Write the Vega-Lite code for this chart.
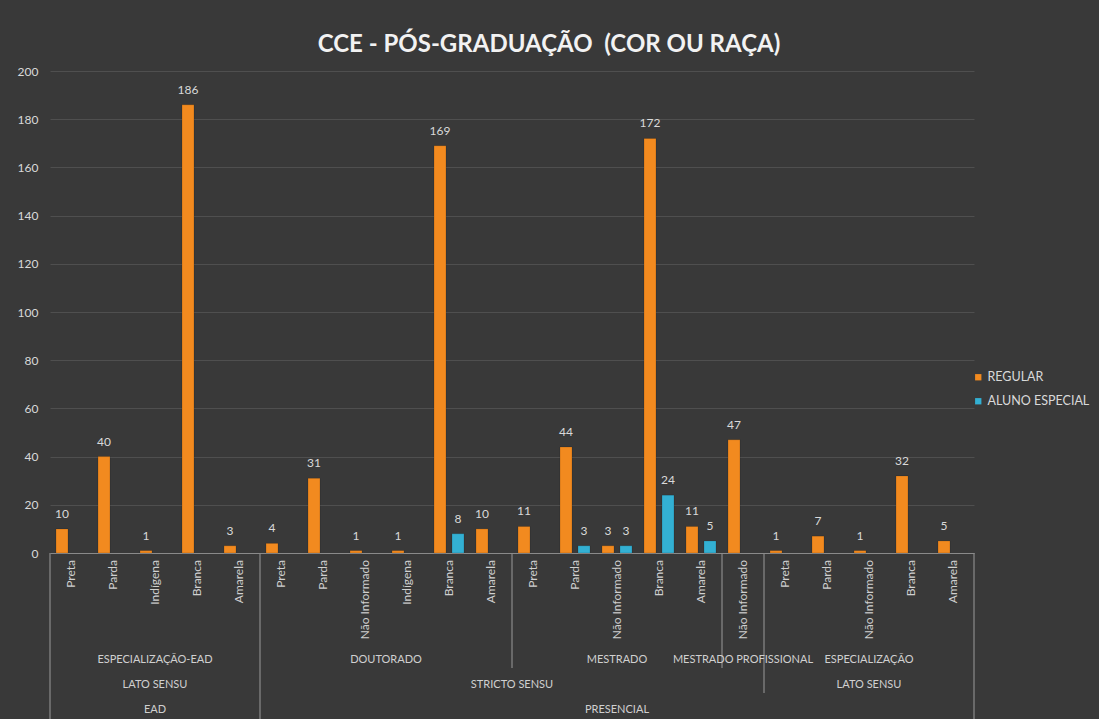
{
  "$schema": "https://vega.github.io/schema/vega-lite/v6.json",
  "background": "#393939",
  "padding": {"left": 17, "top": 33, "right": 10, "bottom": 0},
  "bounds": "flush",
  "spacing": 0,
  "title": {
    "text": "CCE - PÓS-GRADUAÇÃO \u00a0(COR OU RAÇA)",
    "anchor": "middle",
    "frame": "group",
    "dx": 37,
    "offset": 8,
    "color": "#f2f2f2",
    "font": "Lato",
    "fontSize": 24,
    "fontWeight": "bold"
  },
  "datasets": {
    "cats": [
      {"n": 1, "race": "Preta", "course": "ESPECIALIZAÇÃO-EAD", "lvl": "LATO SENSU", "mod": "EAD"},
      {"n": 2, "race": "Parda", "course": "ESPECIALIZAÇÃO-EAD", "lvl": "LATO SENSU", "mod": "EAD"},
      {"n": 3, "race": "Indígena", "course": "ESPECIALIZAÇÃO-EAD", "lvl": "LATO SENSU", "mod": "EAD"},
      {"n": 4, "race": "Branca", "course": "ESPECIALIZAÇÃO-EAD", "lvl": "LATO SENSU", "mod": "EAD"},
      {"n": 5, "race": "Amarela", "course": "ESPECIALIZAÇÃO-EAD", "lvl": "LATO SENSU", "mod": "EAD"},
      {"n": 6, "race": "Preta", "course": "DOUTORADO", "lvl": "STRICTO SENSU", "mod": "PRESENCIAL"},
      {"n": 7, "race": "Parda", "course": "DOUTORADO", "lvl": "STRICTO SENSU", "mod": "PRESENCIAL"},
      {"n": 8, "race": "Não Informado", "course": "DOUTORADO", "lvl": "STRICTO SENSU", "mod": "PRESENCIAL"},
      {"n": 9, "race": "Indígena", "course": "DOUTORADO", "lvl": "STRICTO SENSU", "mod": "PRESENCIAL"},
      {"n": 10, "race": "Branca", "course": "DOUTORADO", "lvl": "STRICTO SENSU", "mod": "PRESENCIAL"},
      {"n": 11, "race": "Amarela", "course": "DOUTORADO", "lvl": "STRICTO SENSU", "mod": "PRESENCIAL"},
      {"n": 12, "race": "Preta", "course": "MESTRADO", "lvl": "STRICTO SENSU", "mod": "PRESENCIAL"},
      {"n": 13, "race": "Parda", "course": "MESTRADO", "lvl": "STRICTO SENSU", "mod": "PRESENCIAL"},
      {"n": 14, "race": "Não Informado", "course": "MESTRADO", "lvl": "STRICTO SENSU", "mod": "PRESENCIAL"},
      {"n": 15, "race": "Branca", "course": "MESTRADO", "lvl": "STRICTO SENSU", "mod": "PRESENCIAL"},
      {"n": 16, "race": "Amarela", "course": "MESTRADO", "lvl": "STRICTO SENSU", "mod": "PRESENCIAL"},
      {"n": 17, "race": "Não Informado", "course": "MESTRADO PROFISSIONAL", "lvl": "STRICTO SENSU", "mod": "PRESENCIAL"},
      {"n": 18, "race": "Preta", "course": "ESPECIALIZAÇÃO", "lvl": "LATO SENSU", "mod": "PRESENCIAL"},
      {"n": 19, "race": "Parda", "course": "ESPECIALIZAÇÃO", "lvl": "LATO SENSU", "mod": "PRESENCIAL"},
      {"n": 20, "race": "Não Informado", "course": "ESPECIALIZAÇÃO", "lvl": "LATO SENSU", "mod": "PRESENCIAL"},
      {"n": 21, "race": "Branca", "course": "ESPECIALIZAÇÃO", "lvl": "LATO SENSU", "mod": "PRESENCIAL"},
      {"n": 22, "race": "Amarela", "course": "ESPECIALIZAÇÃO", "lvl": "LATO SENSU", "mod": "PRESENCIAL"}
    ],
    "bars": [
      {"n": 1, "serie": "REGULAR", "v": 10},
      {"n": 2, "serie": "REGULAR", "v": 40},
      {"n": 3, "serie": "REGULAR", "v": 1},
      {"n": 4, "serie": "REGULAR", "v": 186},
      {"n": 5, "serie": "REGULAR", "v": 3},
      {"n": 6, "serie": "REGULAR", "v": 4},
      {"n": 7, "serie": "REGULAR", "v": 31},
      {"n": 8, "serie": "REGULAR", "v": 1},
      {"n": 9, "serie": "REGULAR", "v": 1},
      {"n": 10, "serie": "REGULAR", "v": 169},
      {"n": 10, "serie": "ALUNO ESPECIAL", "v": 8},
      {"n": 11, "serie": "REGULAR", "v": 10},
      {"n": 12, "serie": "REGULAR", "v": 11},
      {"n": 13, "serie": "REGULAR", "v": 44},
      {"n": 13, "serie": "ALUNO ESPECIAL", "v": 3},
      {"n": 14, "serie": "REGULAR", "v": 3},
      {"n": 14, "serie": "ALUNO ESPECIAL", "v": 3},
      {"n": 15, "serie": "REGULAR", "v": 172},
      {"n": 15, "serie": "ALUNO ESPECIAL", "v": 24},
      {"n": 16, "serie": "REGULAR", "v": 11},
      {"n": 16, "serie": "ALUNO ESPECIAL", "v": 5},
      {"n": 17, "serie": "REGULAR", "v": 47},
      {"n": 18, "serie": "REGULAR", "v": 1},
      {"n": 19, "serie": "REGULAR", "v": 7},
      {"n": 20, "serie": "REGULAR", "v": 1},
      {"n": 21, "serie": "REGULAR", "v": 32},
      {"n": 22, "serie": "REGULAR", "v": 5}
    ],
    "seps": [
      {"b": 0.5, "down": 7},
      {"b": 5.5, "down": 7},
      {"b": 11.5, "down": 4},
      {"b": 16.5, "down": 4},
      {"b": 17.5, "down": 5},
      {"b": 22.5, "down": 7}
    ]
  },
  "vconcat": [
    {
      "width": 924,
      "height": 482,
      "data": {"name": "bars"},
      "encoding": {
        "x": {
          "field": "n", "type": "ordinal",
          "scale": {"paddingInner": 0.142857, "paddingOuter": 0.0714285},
          "axis": {"labels": false, "ticks": false, "title": null, "domainColor": "#8a8a8a", "domainWidth": 1.2}
        },
        "xOffset": {
          "field": "serie", "type": "nominal",
          "scale": {"domain": ["REGULAR", "ALUNO ESPECIAL"], "paddingInner": 0.3333, "paddingOuter": 0.16667}
        },
        "y": {
          "field": "v", "type": "quantitative",
          "scale": {"domain": [0, 200], "nice": false},
          "axis": {
            "values": [0, 20, 40, 60, 80, 100, 120, 140, 160, 180, 200],
            "title": null, "ticks": false, "domain": false,
            "gridColor": "#4f4f4f", "gridWidth": 1,
            "labelColor": "#d9d9d9", "labelFont": "Lato", "labelFontSize": 12, "labelPadding": 12
          }
        }
      },
      "layer": [
        {
          "mark": {"type": "bar", "stroke": "#00000040", "strokeWidth": 0.6},
          "encoding": {
            "color": {
              "field": "serie", "type": "nominal",
              "scale": {"domain": ["REGULAR", "ALUNO ESPECIAL"], "range": ["#F28A1F", "#33B0D3"]},
              "legend": {
                "title": null, "orient": "none", "legendX": 922, "legendY": 300,
                "symbolType": "square", "symbolSize": 40, "symbolStrokeWidth": 0,
                "labelColor": "#d9d9d9", "labelFont": "Lato", "labelFontSize": 12.5,
                "rowPadding": 11, "labelOffset": 3
              }
            }
          }
        },
        {
          "mark": {"type": "text", "baseline": "bottom", "dy": -8, "color": "#d9d9d9", "font": "Lato", "fontSize": 12},
          "encoding": {"text": {"field": "v", "type": "quantitative"}}
        }
      ]
    },
    {
      "width": 924,
      "height": 166,
      "layer": [
        {
          "data": {"name": "seps"},
          "mark": {"type": "rule", "color": "#8a8a8a", "strokeWidth": 1.2, "yOffset": 8},
          "encoding": {
            "x": {"field": "b", "type": "quantitative", "scale": {"domain": [0.5, 22.5], "nice": false, "zero": false}, "axis": null},
            "y": {"field": "down", "type": "quantitative", "scale": {"domain": [-0.28, 6.36], "reverse": true, "nice": false, "zero": false}, "axis": null},
            "y2": {"value": 0}
          }
        },
        {
          "data": {"name": "cats"},
          "mark": {"type": "text", "angle": 270, "align": "right", "baseline": "middle", "color": "#d0d0d0", "font": "Lato", "fontSize": 12, "dy": 0},
          "encoding": {
            "x": {"field": "n", "type": "quantitative"},
            "y": {"datum": 0},
            "text": {"field": "race", "type": "nominal"}
          }
        },
        {
          "data": {"name": "cats"},
          "transform": [{"aggregate": [{"op": "mean", "field": "n", "as": "n"}], "groupby": ["mod", "lvl", "course"]}],
          "mark": {"type": "text", "align": "center", "baseline": "middle", "color": "#d0d0d0", "font": "Lato", "fontSize": 11},
          "encoding": {
            "x": {"field": "n", "type": "quantitative"},
            "y": {"datum": 4},
            "text": {"field": "course", "type": "nominal"}
          }
        },
        {
          "data": {"name": "cats"},
          "transform": [{"aggregate": [{"op": "mean", "field": "n", "as": "n"}], "groupby": ["mod", "lvl"]}],
          "mark": {"type": "text", "align": "center", "baseline": "middle", "color": "#d0d0d0", "font": "Lato", "fontSize": 11},
          "encoding": {
            "x": {"field": "n", "type": "quantitative"},
            "y": {"datum": 5},
            "text": {"field": "lvl", "type": "nominal"}
          }
        },
        {
          "data": {"name": "cats"},
          "transform": [{"aggregate": [{"op": "mean", "field": "n", "as": "n"}], "groupby": ["mod"]}],
          "mark": {"type": "text", "align": "center", "baseline": "middle", "color": "#d0d0d0", "font": "Lato", "fontSize": 11},
          "encoding": {
            "x": {"field": "n", "type": "quantitative"},
            "y": {"datum": 6},
            "text": {"field": "mod", "type": "nominal"}
          }
        }
      ]
    }
  ],
  "config": {
    "view": {"stroke": null},
    "axis": {"gridColor": "#4f4f4f"}
  }
}
